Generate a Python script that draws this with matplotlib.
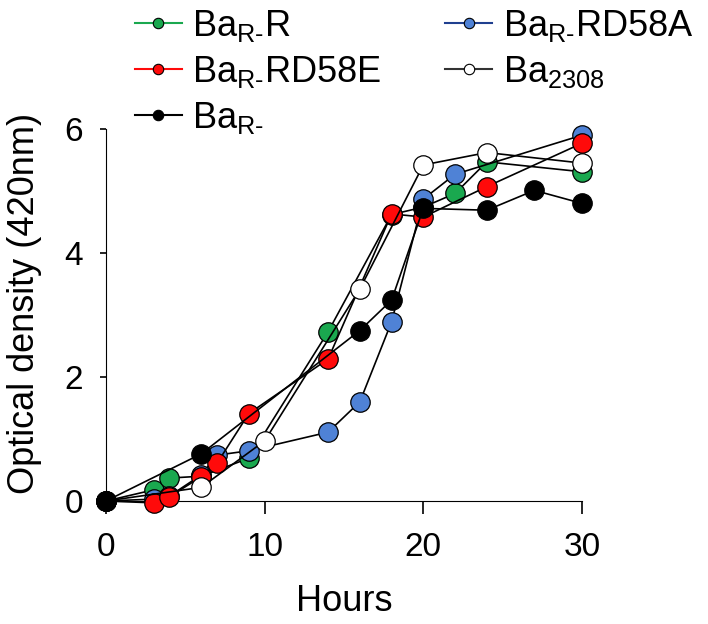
import matplotlib
matplotlib.use("Agg")
import matplotlib.pyplot as plt
from matplotlib.lines import Line2D

plt.rcParams['font.family'] = ['Liberation Sans', 'DejaVu Sans']
plt.rcParams['mathtext.default'] = 'regular'

# growth curves, OD420 vs hours
hours_R = [0, 3, 4, 6, 9, 14, 18, 20, 22, 24, 30]
od_R = [0, 0.18, 0.37, 0.40, 0.69, 2.73, 4.62, 4.74, 4.96, 5.47, 5.31]

hours_D58A = [0, 3, 4, 6, 7, 9, 14, 16, 18, 20, 22, 30]
od_D58A = [0, 0.03, 0.08, 0.42, 0.74, 0.81, 1.11, 1.60, 2.89, 4.87, 5.27, 5.90]

hours_D58E = [0, 3, 4, 6, 7, 9, 14, 18, 20, 24, 30]
od_D58E = [0, -0.03, 0.07, 0.39, 0.61, 1.41, 2.29, 4.63, 4.58, 5.07, 5.77]

hours_2308 = [0, 6, 10, 16, 20, 24, 30]
od_2308 = [0, 0.22, 0.97, 3.42, 5.42, 5.62, 5.45]

hours_Rm = [0, 6, 16, 18, 20, 24, 27, 30]
od_Rm = [0, 0.76, 2.75, 3.24, 4.72, 4.69, 5.01, 4.80]

green = '#1aa84f'
blue = '#4f82d6'
red = '#ff0a0a'

fig = plt.figure(figsize=(7.08, 6.24), dpi=100)
ax = fig.add_axes([106 / 708, 1 - 501 / 624, 476 / 708, 372 / 624])

# drawing order: green, blue, red, white, black on top
series = [
    (hours_R, od_R, green),
    (hours_D58A, od_D58A, blue),
    (hours_D58E, od_D58E, red),
    (hours_2308, od_2308, 'white'),
    (hours_Rm, od_Rm, 'black'),
]
for z, (x, y, c) in enumerate(series):
    ax.plot(x, y, color='black', lw=1.2, marker='o', ms=14,
            mfc=c, mec='black', mew=0.9, zorder=3 + z, clip_on=False)

ax.set_xlim(0, 30)
ax.set_ylim(0, 6)
ax.set_xticks([0, 10, 20, 30])
ax.set_yticks([0, 2, 4, 6])
ax.spines['top'].set_visible(False)
ax.spines['right'].set_visible(False)
ax.tick_params(axis='x', labelsize=24, length=9, width=1.2, pad=13.5)
ax.tick_params(axis='y', labelsize=24, length=4.5, width=1.2, pad=12)
ax.set_xlabel('Hours', fontsize=26, labelpad=15)
ax.set_ylabel('Optical density (420nm)', fontsize=26)
ax.yaxis.set_label_coords(-0.135, 0.532)

# legend with coloured lines and small markers
def handle(c, lc):
    return Line2D([], [], color=lc, lw=1.5, marker='o', ms=7.5,
                  mfc=c, mec='black', mew=0.8)

handles = [handle(green, green), handle(red, red), handle('black', 'black'),
           handle(blue, '#1f3f8f'), handle('white', '#333333')]
labels = ['Ba$_{R\u2010}$R', 'Ba$_{R\u2010}$RD58E', 'Ba$_{R\u2010}$',
          'Ba$_{R\u2010}$RD58A', 'Ba$_{2308}$']
fig.legend(handles, labels, ncol=2, loc='upper left',
           bbox_to_anchor=(135 / 708, 1 - 8 / 624), frameon=False,
           fontsize=26, handlelength=1.3, handletextpad=0.28,
           columnspacing=1.78, labelspacing=0.27, borderpad=0,
           borderaxespad=0)

fig.savefig('out.png', dpi=100)
